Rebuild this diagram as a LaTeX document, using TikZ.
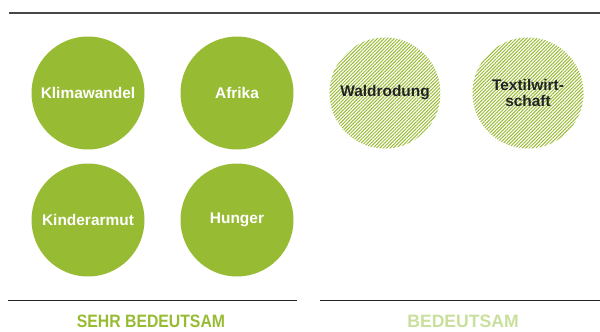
\documentclass[tikz,border=0pt]{standalone}
\usepackage{fontspec}
\setmainfont{Liberation Sans}
\usetikzlibrary{patterns.meta}
\definecolor{leaf}{HTML}{98BB34}
\definecolor{paleleaf}{HTML}{C9DF9C}
\definecolor{ink}{HTML}{222222}
\tikzset{
  solidbubble/.style={circle, fill=leaf, minimum size=113bp, inner sep=0pt,
    text=white, font=\bfseries\fontsize{15.5}{18}\selectfont, align=center},
  hatchbubble/.style={circle, minimum size=111bp, inner sep=0pt,
    pattern={Lines[angle=45,distance=2.4bp,line width=1bp]}, pattern color=leaf,
    text=ink, font=\bfseries\fontsize{15.5}{17}\selectfont, align=center},
  rule/.style={line width=1.3bp, draw=ink},
  caption/.style={anchor=base, inner sep=0pt, text depth=0pt, font=\bfseries\fontsize{18}{20}\selectfont}
}
\begin{document}
\begin{tikzpicture}[x=1bp,y=-1bp]
\useasboundingbox (0,0) rectangle (600,331);
\coordinate (tl) at (9,13);
\coordinate (tr) at (600,13);
\draw[line width=1.5bp, draw=black!72] (tl) -- (tr);
\node[solidbubble] (klima) at (88,93) {Klimawandel};
\node[solidbubble] (afrika) at (237,93) {Afrika};
\node[solidbubble] (kinder) at (88,220) {Kinderarmut};
\node[solidbubble] (hunger) at (237,220) {Hunger};
\node[hatchbubble] (wald) at (385,93) {Waldrodung};
\node[hatchbubble] (textil) at (528,93) {Textilwirt-\\schaft};
\coordinate (la) at (8,300.5);
\coordinate (lb) at (297,300.5);
\coordinate (ra) at (320,300.5);
\coordinate (rb) at (600,300.5);
\draw[rule] (la) -- (lb);
\draw[rule] (ra) -- (rb);
\node[caption, text=leaf] (sehr) at (151,327) {\scalebox{0.88}[1]{SEHR BEDEUTSAM}};
\node[caption, text=paleleaf] (bed) at (463,327) {\scalebox{0.98}[1]{BEDEUTSAM}};
\end{tikzpicture}
\end{document}
